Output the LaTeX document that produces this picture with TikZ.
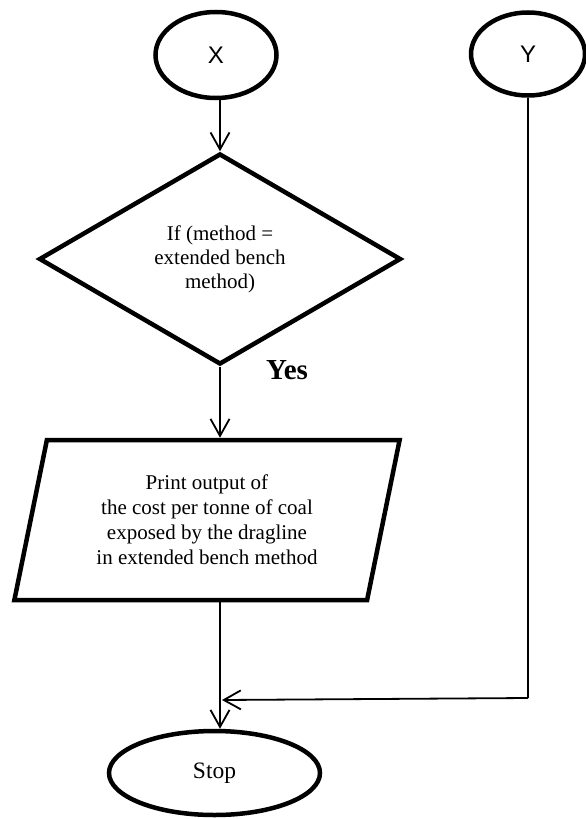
\documentclass[tikz,border=0pt]{standalone}
\usepackage{fontspec}
\setmainfont{Liberation Serif}
\newfontfamily\arialf{Liberation Sans}
\usetikzlibrary{shapes.geometric,arrows.meta}
\begin{document}
\begin{tikzpicture}[x=1pt,y=-1pt,
  shapeline/.style={draw=black,line width=4.5pt},
  term/.style={shapeline,ellipse,inner sep=0pt},
  conn/.style={draw=black,line width=1.8pt,-{Straight Barb[length=17pt,width=19pt,line width=1.8pt]}},
  plain/.style={draw=black,line width=1.8pt},
  txt/.style={font=\fontsize{21}{24}\selectfont,align=center}
]
\useasboundingbox (0,0) rectangle (586,819);
\node[term,minimum width=121pt,minimum height=86pt,font=\arialf\fontsize{24}{28}\selectfont] (x) at (216,55) {X};
\node[term,minimum width=114pt,minimum height=83pt,font=\arialf\fontsize{24}{28}\selectfont] (y) at (528,54) {Y};
\node[shapeline,diamond,minimum width=362pt,minimum height=211pt,inner sep=0pt,txt] (d) at (220,259) {If (method =\\extended bench\\method)};
\node[font=\bfseries\fontsize{29}{32}\selectfont] (yes) at (287,370) {Yes};
\node[shapeline,trapezium,trapezium left angle=76,trapezium right angle=104,trapezium stretches=true,minimum width=386pt,minimum height=160pt,inner sep=0pt,font=\fontsize{21}{25}\selectfont,align=center] (p) at (207,520) {Print output of\\the cost per tonne of coal\\exposed by the dragline\\in extended bench method};
\node[term,minimum width=211pt,minimum height=84pt,font=\fontsize{23.5}{27}\selectfont] (stop) at (214.5,773) {Stop};
\coordinate (yc) at (528,698);
\coordinate (j) at (222,700);
\draw[conn] (d.north |- x.south) -- (d.north);
\draw[conn] (d.south) -- (d.south |- p.north);
\draw[conn] (d.south |- p.south) -- (d.south |- stop.north);
\draw[plain] (y.south) -- (yc);
\draw[conn] (yc) -- (j);
\end{tikzpicture}
\end{document}
